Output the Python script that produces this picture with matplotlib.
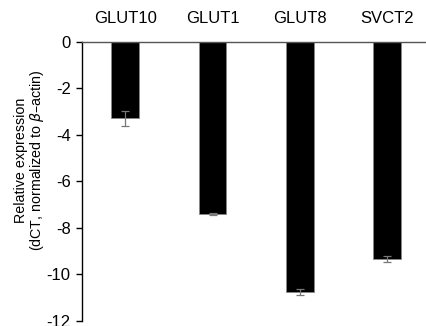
import matplotlib
matplotlib.use('Agg')
from matplotlib import pyplot as plt

genes = ['GLUT10', 'GLUT1', 'GLUT8', 'SVCT2']
values = [-3.3, -7.42, -10.75, -9.35]
errors = [0.33, 0.05, 0.13, 0.12]

plt.rcParams['font.family'] = ['Liberation Sans', 'DejaVu Sans']
plt.rcParams['mathtext.fontset'] = 'dejavusans'

fig = plt.figure(figsize=(4.26, 3.26), dpi=100)
ax = fig.add_axes([0.192, 0.016, 0.808, 0.856])

x = range(len(genes))
ax.bar(x, values, width=0.32, color='black', edgecolor='#888888', linewidth=0.6,
       yerr=errors, error_kw=dict(ecolor='#777777', elinewidth=0.9, capsize=3, capthick=0.9))

ax.set_xlim(-0.5, 3.45)
ax.set_ylim(-12, 0)
ax.set_yticks(range(-12, 1, 2))
ax.set_yticklabels([str(v) for v in range(-12, 1, 2)], fontsize=12)
ax.xaxis.tick_top()
ax.set_xticks(list(x))
ax.set_xticklabels(genes, fontsize=12)
ax.tick_params(axis='x', length=0, pad=11)
ax.tick_params(axis='y', direction='out', length=4, width=1, pad=4)

ax.spines['right'].set_visible(False)
ax.spines['bottom'].set_visible(False)
ax.spines['left'].set_linewidth(1.0)
ax.spines['top'].set_color('#555555')
ax.spines['top'].set_linewidth(1.0)

fig.text(30 / 426, 1 - 160 / 326, 'Relative expression\n(dCT, normalized to $\\beta$\u2013actin)',
         fontsize=10.3, rotation=90, ha='center', va='center', multialignment='center',
         linespacing=1.0)

plt.savefig('out.png', dpi=100)
